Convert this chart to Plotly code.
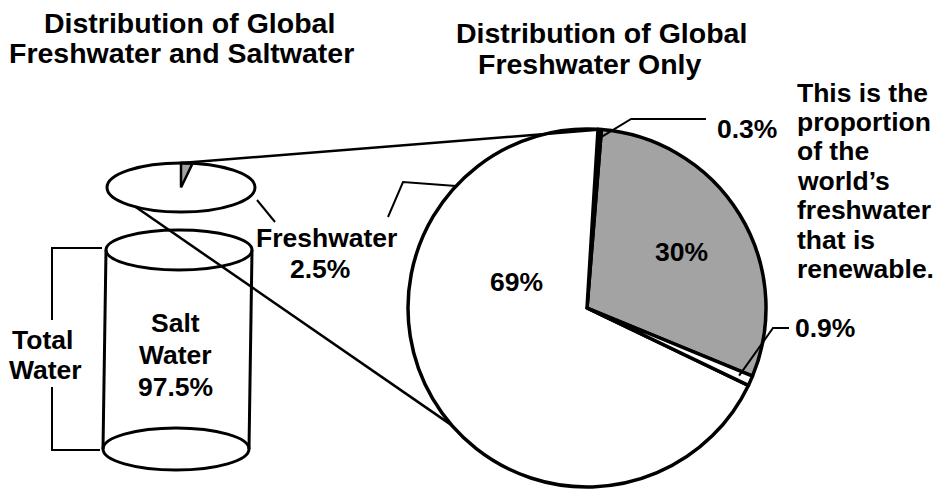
import math
import plotly.graph_objects as go

W, H = 933, 489

# ---- data -------------------------------------------------------------
# global water: salt vs fresh (percent of total water)
water_types = ["Salt Water", "Freshwater"]
water_pct = [97.5, 2.5]

# breakdown of the freshwater share (percent of freshwater), slice order
fresh_labels = ["30%", "0.3%", "69%", "0.9%"]
fresh_values = [30, 0.3, 69, 0.9]
fresh_colors = ["#a3a3a3", "white", "white", "white"]

FONT = "Liberation Sans, Arial, Helvetica, sans-serif"
INK = "black"
BODY = 26.5
TITLE = 28.5

# ---- geometry (pixel space, y grows downward) -------------------------
PIE_CX, PIE_CY, PIE_R = 587, 308, 179
RENEW_CENTER_DEG = 31.5          # where the highlighted slice is centred
SMALL = dict(cx=181, cy=187.5, rx=74, ry=24.5)   # floating lid (global split)
CYL_TOP = dict(cx=179, cy=250, rx=73, ry=20)
CYL_BOT = dict(cx=176, cy=449, rx=73, ry=21)

total_fresh = sum(fresh_values)
spans = [v / total_fresh * 360 for v in fresh_values]
start_math = RENEW_CENTER_DEG - spans[0] / 2      # counterclockwise from east
slice_bounds = []
a = start_math
for s in spans:
    slice_bounds.append((a, a + s))
    a += s


def pie_pt(deg, frac=1.0):
    r = PIE_R * frac
    return (PIE_CX + r * math.cos(math.radians(deg)),
            PIE_CY - r * math.sin(math.radians(deg)))


def ell_pt(e, deg):
    return (e["cx"] + e["rx"] * math.cos(math.radians(deg)),
            e["cy"] - e["ry"] * math.sin(math.radians(deg)))


fig = go.Figure()

# big pie of freshwater; with counterclockwise order plotly puts the first
# slice clockwise of `rotation`, so rotation marks its far (ccw) edge
fig.add_trace(go.Pie(
    labels=fresh_labels,
    values=fresh_values,
    sort=False,
    direction="counterclockwise",
    rotation=90 - (start_math + spans[0]),
    marker=dict(colors=fresh_colors, line=dict(color=INK, width=3.5)),
    textinfo="none",
    hoverinfo="label",
    showlegend=False,
    domain=dict(x=[(PIE_CX - PIE_R) / W, (PIE_CX + PIE_R) / W],
                y=[(H - PIE_CY - PIE_R) / H, (H - PIE_CY + PIE_R) / H]),
))

# freshwater wedge on the floating lid (area share of the ellipse)
fresh_share = water_pct[1] / sum(water_pct)
wedge_end = 90.0
wedge_start = wedge_end - fresh_share * 360
wx, wy = [SMALL["cx"]], [SMALL["cy"]]
n = 24
for i in range(n + 1):
    d = wedge_start + (wedge_end - wedge_start) * i / n
    px, py = ell_pt(SMALL, d)
    wx.append(px)
    wy.append(py)
wx.append(SMALL["cx"])
wy.append(SMALL["cy"])
fig.add_trace(go.Scatter(
    x=wx, y=wy, mode="lines", fill="toself", fillcolor="#a3a3a3",
    line=dict(color=INK, width=2.5), hoverinfo="skip", showlegend=False,
))

shapes = []


def ellipse(e, width=3):
    shapes.append(dict(type="circle", xref="x", yref="y",
                       x0=e["cx"] - e["rx"], x1=e["cx"] + e["rx"],
                       y0=e["cy"] - e["ry"], y1=e["cy"] + e["ry"],
                       line=dict(color=INK, width=width), fillcolor="rgba(0,0,0,0)"))


def polyline(pts, width=2):
    path = "M " + " L ".join(f"{x:.1f},{y:.1f}" for x, y in pts)
    shapes.append(dict(type="path", xref="x", yref="y", path=path,
                       line=dict(color=INK, width=width)))


# cylinder of total water
ellipse(CYL_TOP)
ellipse(CYL_BOT)
polyline([(CYL_TOP["cx"] - CYL_TOP["rx"], CYL_TOP["cy"]),
          (CYL_BOT["cx"] - CYL_BOT["rx"], CYL_BOT["cy"])], 3)
polyline([(CYL_TOP["cx"] + CYL_TOP["rx"], CYL_TOP["cy"]),
          (CYL_BOT["cx"] + CYL_BOT["rx"], CYL_BOT["cy"])], 3)

# floating lid
ellipse(SMALL)

# bracket for "Total Water"
polyline([(102, 248), (52, 248), (52, 320)], 2)
polyline([(52, 387), (52, 450), (100, 450)], 2)

# expansion lines from the lid to the big pie
lid_top = ell_pt(SMALL, 90)
polyline([lid_top, pie_pt(85.5)], 2.5)
polyline([ell_pt(SMALL, 232), pie_pt(221)], 2.5)

# "Freshwater" leaders: one to the lid, one to the big pie
polyline([(257, 200), (275, 222)], 2)
polyline([(388, 217), (403, 182), pie_pt(137)], 2)

# leader for the 0.3% slice
mid03 = sum(slice_bounds[1]) / 2
p03 = pie_pt(mid03, 0.95)
polyline([(706, 119), (p03[0] + 32, 119), p03], 2)

# leader for the 0.9% slice
mid09 = sum(slice_bounds[3]) / 2
p09 = pie_pt(mid09, 0.93)
polyline([(789, 328), (773, 328), p09], 2)

annotations = []


def text(x, y, s, size=BODY, anchor="center"):
    annotations.append(dict(x=x, y=y, xref="x", yref="y", text=f"<b>{s}</b>",
                            showarrow=False, xanchor=anchor, yanchor="middle",
                            font=dict(family=FONT, size=size, color=INK)))


# titles
text(189, 23, "Distribution of Global", TITLE)
text(181, 53, "Freshwater and Saltwater", TITLE)
text(601, 33, "Distribution of Global", TITLE)
text(589, 64, "Freshwater Only", TITLE)

# cylinder labels
salt_lines = ["Salt", "Water", f"{water_pct[0]:g}%"]
for i, s in enumerate(salt_lines):
    text(175, 323 + 32 * i, s)
text(42, 340, "Total")
text(45, 370, "Water")
text(326, 238, "Freshwater")
text(320, 269, f"{water_pct[1]:g}%")

# pie labels
text(516, 282, fresh_labels[2])
text(681, 252, fresh_labels[0])
text(715, 129, fresh_labels[1], anchor="left")
text(793, 328, fresh_labels[3], anchor="left")

# note beside the pie
note = ["This is the", "proportion", "of the", "world\u2019s",
        "freshwater", "that is", "renewable."]
for i, s in enumerate(note):
    text(795, 92.5 + 29.4 * i, s, anchor="left")

fig.update_layout(
    width=W, height=H,
    margin=dict(l=0, r=0, t=0, b=0),
    paper_bgcolor="white", plot_bgcolor="white",
    xaxis=dict(range=[0, W], visible=False, fixedrange=True, domain=[0, 1]),
    yaxis=dict(range=[H, 0], visible=False, fixedrange=True, domain=[0, 1]),
    shapes=shapes,
    annotations=annotations,
    showlegend=False,
)

fig.write_html("out.html")
